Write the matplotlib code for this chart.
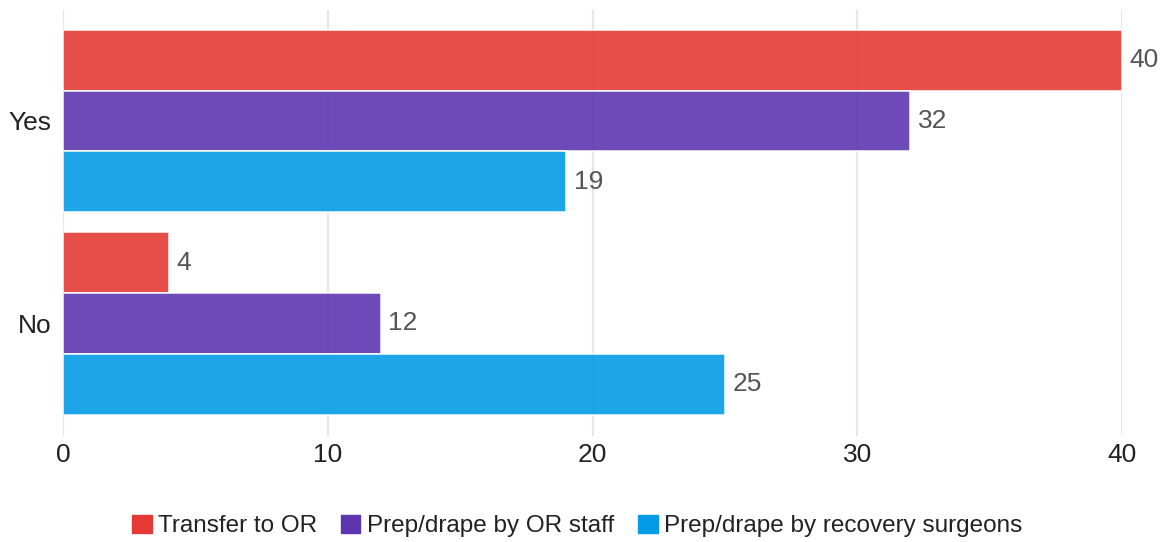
import matplotlib
matplotlib.use("Agg")
import matplotlib.pyplot as plt
import numpy as np

plt.rcParams['font.family'] = ['Liberation Sans', 'DejaVu Sans']

categories = ["Yes", "No"]
series_names = ["Transfer to OR", "Prep/drape by OR staff", "Prep/drape by recovery surgeons"]
transfer = [40, 4]
prep_or = [32, 12]
prep_recovery = [19, 25]
colors = ["#E53935", "#5E35B1", "#039BE5"]
xticks = [0, 10, 20, 30, 40]

fig = plt.figure(figsize=(11.72, 5.42), dpi=100)
ax = fig.add_axes([63/1172, 1-436/542, (1122-63)/1172, 426/542])

y = np.arange(len(categories))
pitch = 0.3
series = [transfer, prep_or, prep_recovery]
for i, (vals, col, name) in enumerate(zip(series, colors, series_names)):
    pos = y + (i - 1) * pitch
    bars = ax.barh(pos, vals, height=pitch, color=col, alpha=0.9,
                   edgecolor="white", linewidth=1.2, label=name, zorder=3)
    for b, v in zip(bars, vals):
        ax.annotate(str(v), (b.get_width(), b.get_y() + b.get_height()/2),
                    xytext=(5.5, 0), textcoords="offset points",
                    va="center", ha="left", fontsize=19, color="#555555")

ax.set_xlim(0, 40)
ax.set_ylim(1.556, -0.548)
ax.set_xticks(xticks)
ax.set_xticklabels([str(t) for t in xticks])
ax.set_yticks(y)
ax.set_yticklabels(categories)
ax.grid(axis="x", color="#e6e6e6", linewidth=1.5, zorder=0)
ax.grid(axis="y", visible=False)
for s in ax.spines.values():
    s.set_visible(False)
ax.tick_params(axis="both", length=0, labelsize=19, colors="#222222")
ax.tick_params(axis="x", pad=5)
ax.tick_params(axis="y", pad=8)

handles = [plt.Rectangle((0, 0), 1, 1, color=c) for c in colors]
fig.legend(handles, series_names, loc="center", bbox_to_anchor=(577/1172, 1-526/542),
           ncol=3, frameon=False, fontsize=17.5, handlelength=0.8, handleheight=0.8,
           handletextpad=0.25, columnspacing=1.0, labelcolor="#222222")

fig.savefig("out.png", dpi=100)
